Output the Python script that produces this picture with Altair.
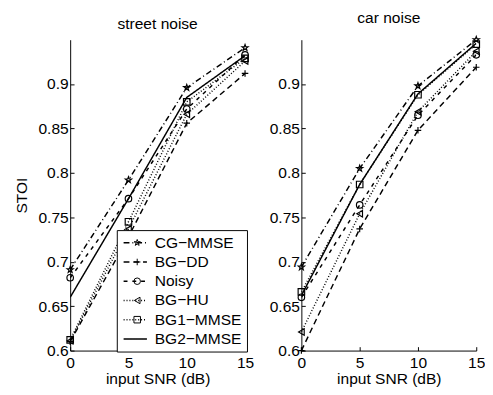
import altair as alt
import pandas as pd

snr = [0, 5, 10, 15]
methods = ["CG\u2212MMSE", "BG\u2212DD", "Noisy", "BG\u2212HU", "BG1\u2212MMSE", "BG2\u2212MMSE"]

street_vals = [
    [0.691, 0.792, 0.896, 0.941],  # CG-MMSE
    [0.610, 0.728, 0.856, 0.912],  # BG-DD
    [0.682, 0.771, 0.872, 0.933],  # Noisy
    [0.611, 0.737, 0.866, 0.926],  # BG-HU
    [0.612, 0.745, 0.880, 0.929],  # BG1-MMSE
    [0.660, 0.771, 0.885, 0.932],  # BG2-MMSE
]
car_vals = [
    [0.694, 0.805, 0.898, 0.950],
    [0.600, 0.737, 0.848, 0.919],
    [0.660, 0.764, 0.865, 0.933],
    [0.621, 0.754, 0.869, 0.937],
    [0.666, 0.787, 0.888, 0.945],
    [0.662, 0.787, 0.889, 0.946],
]
y_ticks = [0.6, 0.65, 0.7, 0.75, 0.8, 0.85, 0.9]
x_ticks = [0, 5, 10, 15]

STAR = ("M0,-1L0.235,-0.324L0.951,-0.309L0.380,0.124L0.588,0.809L0,0.4"
        "L-0.588,0.809L-0.380,0.124L-0.951,-0.309L-0.235,-0.324Z")
PLUS = "M-1,0L1,0M0,-1L0,1"
LINE_SAMPLE = "M-1,0L3,0"
shapes = [STAR, PLUS, "circle", "triangle-left", "square", "M0,0"]
dashes = [[6, 3, 1, 3], [6, 4], [4, 5], [1, 2], [1, 2], [1, 0]]
widths = [1.5, 1.5, 1.5, 1.1, 1.1, 1.8]
markers = ["m:" + m for m in methods]

FONT = "Liberation Sans"
FS = 16


def make_df(vals):
    rows = []
    for m, mk, series in zip(methods, markers, vals):
        for s, v in zip(snr, series):
            rows.append({"snr": s, "stoi": v, "method": m, "marker": mk})
    return pd.DataFrame(rows)


LX, LY = 48, 196

dash_legend = alt.Legend(
    orient="none", legendX=LX, legendY=LY, title=None,
    symbolType=LINE_SAMPLE, symbolSize=144, symbolStrokeWidth=1.5,
    symbolStrokeColor="black", labelFont=FONT, labelFontSize=FS,
    labelColor="black", labelOffset=18, rowPadding=3.8, padding=5,
    fillColor="white", strokeColor="black", cornerRadius=0, zindex=1,
)
shape_legend = alt.Legend(
    orient="none", legendX=LX + 8, legendY=LY, title=None,
    symbolSize=45, symbolStrokeWidth=1, symbolStrokeColor="black",
    symbolFillColor="transparent", labelFont=FONT, labelFontSize=FS,
    labelOpacity=0, labelOffset=15, rowPadding=3.8, padding=5, zindex=2,
)


def panel(title, vals, ytitle):
    df = make_df(vals)
    base = alt.Chart(df)
    xs = alt.Scale(domain=[0, 15], nice=False)
    ys = alt.Scale(domain=[0.6, 0.95], nice=False, zero=False)
    lines = base.mark_line(color="black", clip=True).encode(
        x=alt.X("snr:Q", scale=xs, axis=alt.Axis(orient="bottom", ticks=False, labels=False, domain=True, title=None)),
        y=alt.Y("stoi:Q", scale=ys, axis=alt.Axis(orient="left", ticks=False, labels=False, domain=True, title=None)),
        strokeDash=alt.StrokeDash("method:N", scale=alt.Scale(domain=methods, range=dashes), legend=dash_legend),
        strokeWidth=alt.StrokeWidth("method:N", scale=alt.Scale(domain=methods, range=widths), legend=None),
        order="snr:Q",
    )
    yaxis = dict(orient="left", values=y_ticks, offset=-4, tickSize=4, domain=False,
                 labelPadding=2, format="~g", titlePadding=9, labelFlush=False)
    yaxis["title"] = ytitle if ytitle else None
    points = base.mark_point(filled=False, color="black", size=45, strokeWidth=1.2, opacity=1).encode(
        x=alt.X("snr:Q", scale=xs, axis=alt.Axis(orient="bottom", values=x_ticks, offset=-4, tickSize=4,
                                                  domain=False, labelPadding=4, labelFlush=False,
                                                  title="input SNR (dB)", titlePadding=1)),
        y=alt.Y("stoi:Q", scale=ys, axis=alt.Axis(**yaxis)),
        shape=alt.Shape("marker:N", scale=alt.Scale(domain=markers, range=shapes), legend=shape_legend),
    )
    return (
        alt.layer(lines, points, title=alt.TitleParams(title, fontSize=FS, font=FONT, fontWeight="normal", offset=8))
        .resolve_axis(x="independent", y="independent")
        .properties(width=180, height=320)
    )


chart = (
    alt.hconcat(panel("street noise", street_vals, "STOI"), panel("car noise", car_vals, None), spacing=15)
    .properties(padding={"left": 5, "top": -3, "right": 0, "bottom": 0}, background="white")
    .configure_view(stroke=None)
    .configure_axis(labelFont=FONT, titleFont=FONT, labelFontSize=FS, titleFontSize=FS,
                    titleFontWeight="normal", labelColor="black", titleColor="black",
                    domainColor="black", tickColor="black", grid=False, domainWidth=1)
)

chart.save("out.html", embed_options={"renderer": "svg", "actions": False})
